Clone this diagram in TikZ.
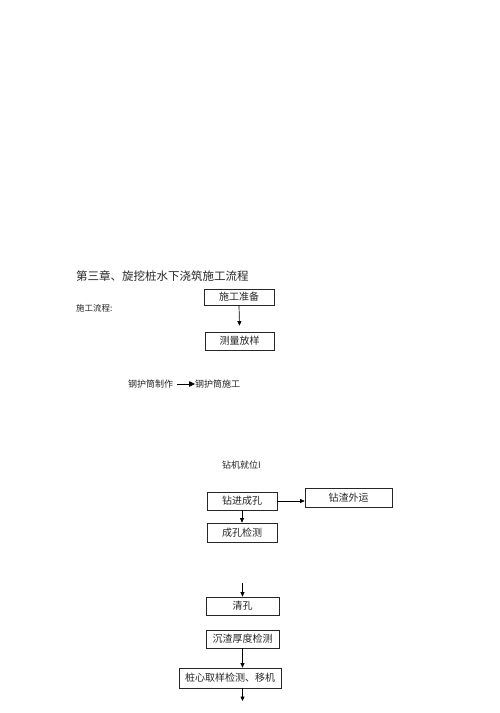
\documentclass[tikz,border=0pt]{standalone}
\usepackage{fontspec}
\setmainfont{Noto Sans CJK SC}
\usetikzlibrary{arrows.meta,calc}
\begin{document}
\begin{tikzpicture}[x=1pt,y=-1pt,
  flowbox/.style={draw=black!85,line width=0.7pt,inner sep=0pt,
    font=\fontsize{10}{10}\selectfont,text=black!85},
  plain/.style={inner sep=0pt,anchor=west,text=black!85},
  flowarrow/.style={line width=0.7pt,draw=black,
    -{Triangle[length=4.5pt,width=4pt]}}]
\useasboundingbox (0,0) rectangle (500,713);
\fill[white] (0,0) rectangle (500,713);

\node[plain,font=\fontsize{11.5}{12}\selectfont] (title) at (76,276) {第三章、旋挖桩水下浇筑施工流程};
\node[plain,font=\fontsize{8.5}{9}\selectfont] (label) at (76,308) {施工流程:};

\node[flowbox,minimum width=70pt,minimum height=16pt] (A) at (239,297) {施工准备};
\node[flowbox,minimum width=69pt,minimum height=18pt] (B) at (239.5,341) {测量放样};
\draw[flowarrow] (A.south) -- ($(B.north)+(0,-6)$);

\node[plain,font=\fontsize{9}{9}\selectfont] (m1) at (128,384) {钢护筒制作};
\node[plain,font=\fontsize{9}{9}\selectfont] (m2) at (195,384) {钢护筒施工};
\draw[line width=0.8pt,-{Triangle[length=6pt,width=5.5pt]}] ($(m1.east)+(4,0)$) -- (m2.west);

\node[plain,font=\fontsize{9}{9}\selectfont] (pos) at (222,465) {钻机就位I};

\node[flowbox,minimum width=70pt,minimum height=18pt] (C) at (242,501) {钻进成孔};
\node[flowbox,minimum width=87pt,minimum height=19pt] (D) at (348.5,497.5) {钻渣外运};
\draw[flowarrow] (C.east) -- (C.east -| D.west);
\node[flowbox,minimum width=70pt,minimum height=19pt] (E) at (242,532.5) {成孔检测};
\draw[flowarrow] (C.south) -- (E.north);

\coordinate (top) at (242.5,583);
\node[flowbox,minimum width=73pt,minimum height=18pt] (F) at (242.5,606) {清孔};
\draw[flowarrow] (top) -- (F.north);
\node[flowbox,minimum width=73pt,minimum height=18pt] (G) at (242.5,639) {沉渣厚度检测};
\node[flowbox,minimum width=102pt,minimum height=20pt] (H) at (230,678) {桩心取样检测、移机};
\draw[flowarrow] (G.south) -- (G.south |- H.north);
\coordinate (bottom) at (242.5,701);
\draw[flowarrow] (H.south -| G.south) -- (bottom);
\end{tikzpicture}
\end{document}
